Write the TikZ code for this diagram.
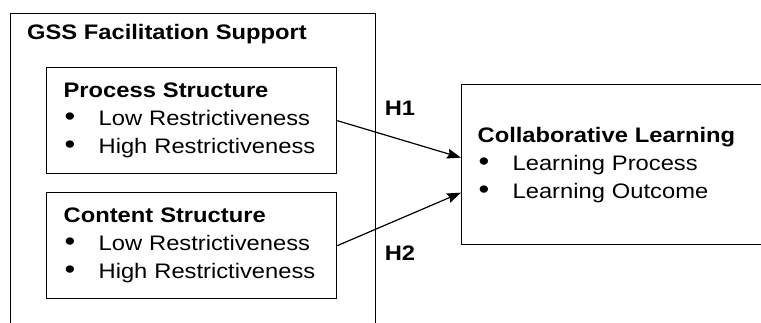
\documentclass[tikz,border=0pt]{standalone}
\usepackage{fontspec}
\setmainfont{Liberation Sans}[FakeStretch=1.13]
\usepackage{tikz}
\usetikzlibrary{arrows.meta}
\tikzstyle{frame} = [rectangle, draw=black, line width=1.3pt, anchor=north west, inner sep=0pt]
\tikzstyle{factor} = [rectangle, draw=black, line width=1.3pt, anchor=north west, minimum width=290pt, minimum height=106pt, inner xsep=17pt, text width=256pt, align=left]
\tikzstyle{outcome} = [rectangle, draw=black, line width=1.3pt, anchor=north west, minimum width=330pt, minimum height=160pt, inner xsep=16pt, text width=298pt, align=left]
\tikzstyle{hyp} = [font=\fontsize{21}{28}\selectfont\bfseries]
\tikzstyle{arrow} = [line width=1.2pt, -{Stealth[length=14pt, width=10pt, inset=2pt]}]
\newcommand{\itm}{\hspace*{1pt}\makebox[34pt][l]{\fontsize{27}{28}\selectfont\textbullet}}

\begin{document}
\begin{tikzpicture}[x=1pt, y=-1pt, font=\fontsize{21}{28}\selectfont]
	\useasboundingbox (0,0) rectangle (761,322);
	\clip (0,0) rectangle (761,322);
	
	\node (gss) [frame, minimum width=365pt, minimum height=340pt] at (10,13) {};
	\node (title) [anchor=base west, inner sep=0pt, font=\fontsize{21}{28}\selectfont\bfseries] at (27,39) {GSS Facilitation Support};
	
	\node (p1) [factor] at (46,67) {\textbf{Process Structure}\\ \itm Low Restrictiveness\\ \itm High Restrictiveness};
	\node (p2) [factor] at (46,192) {\textbf{Content Structure}\\ \itm Low Restrictiveness\\ \itm High Restrictiveness};
	
	\node (cl) [outcome] at (461,84) {\textbf{Collaborative Learning}\\ \itm Learning Process\\ \itm Learning Outcome};
	
	\draw [arrow] (p1.east) -- ([yshift=7pt]cl.west);
	\draw [arrow] (p2.east) -- ([yshift=-28pt]cl.west);
	
	\node (h1) [hyp] at (400,108) {H1};
	\node (h2) [hyp] at (400,253) {H2};
	
\end{tikzpicture}
\end{document}
